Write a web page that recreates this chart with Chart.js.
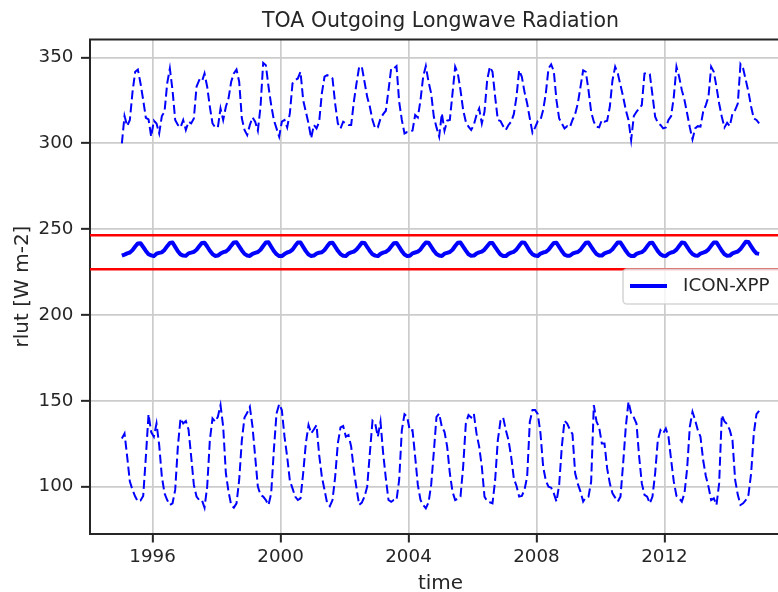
<!DOCTYPE html>
<html lang="en">
<head>
    <meta charset="UTF-8">
    <title>TOA Outgoing Longwave Radiation</title>
    <style>
        html, body { margin: 0; padding: 0; overflow: hidden; background: #ffffff; }
        canvas { display: block; }
    </style>
</head>
<body>
<script src="https://cdn.jsdelivr.net/npm/chart.js@4.4.0/dist/chart.umd.min.js"></script>

<canvas id="rlut" width="800" height="592"></canvas>
<script>
    // monthly values, Jan 1995 .. Dec 2014, one row per year
    const startYear = 1995

    const rlutMean = [
        234.6, 235.2, 235.9, 236.4, 237.8, 239.9, 241.7, 241.8, 239.6, 237.3, 235.4, 234.7,
        234.3, 235.7, 236.2, 236.5, 237.9, 240.1, 242.0, 242.2, 239.7, 237.1, 235.3, 234.6,
        234.5, 235.9, 236.3, 236.8, 238.0, 240.0, 241.9, 242.1, 239.9, 237.4, 235.5, 234.4,
        234.6, 235.8, 236.6, 237.0, 238.3, 240.4, 242.3, 242.4, 240.0, 237.6, 235.6, 234.7,
        234.4, 235.6, 236.2, 236.7, 238.0, 240.2, 242.2, 242.4, 239.8, 237.3, 235.4, 234.3,
        234.3, 235.5, 236.4, 236.9, 238.1, 240.3, 242.3, 242.2, 239.7, 237.2, 235.2, 234.4,
        234.6, 235.7, 236.3, 236.6, 237.9, 240.0, 242.0, 242.1, 239.8, 237.4, 235.5, 234.5,
        234.4, 235.8, 236.5, 236.9, 238.2, 240.1, 242.1, 242.0, 239.6, 237.3, 235.4, 234.6,
        234.3, 235.6, 236.3, 236.8, 237.9, 239.9, 241.8, 242.0, 239.7, 237.2, 235.3, 234.4,
        234.5, 235.9, 236.4, 236.9, 238.2, 240.4, 242.2, 242.1, 239.8, 237.4, 235.5, 234.6,
        234.4, 235.7, 236.2, 236.7, 238.0, 240.2, 242.1, 242.2, 239.9, 237.5, 235.4, 234.5,
        234.6, 235.8, 236.5, 236.9, 238.1, 240.1, 242.0, 241.9, 239.6, 237.3, 235.3, 234.4,
        234.3, 235.6, 236.3, 236.8, 238.2, 240.3, 242.3, 242.1, 239.8, 237.2, 235.4, 234.6,
        234.4, 235.8, 236.4, 236.8, 238.0, 240.0, 242.0, 242.1, 239.7, 237.3, 235.2, 234.5,
        234.5, 235.7, 236.3, 236.7, 237.9, 240.1, 242.1, 242.2, 239.9, 237.5, 235.5, 234.6,
        234.6, 235.9, 236.5, 237.0, 238.3, 240.4, 242.3, 242.2, 239.8, 237.4, 235.3, 234.4,
        234.3, 235.6, 236.2, 236.6, 237.9, 240.0, 241.9, 242.1, 239.6, 237.2, 235.4, 234.5,
        234.4, 235.7, 236.4, 236.8, 238.1, 240.2, 242.2, 242.0, 239.7, 237.3, 235.5, 234.6,
        234.5, 235.8, 236.3, 236.9, 238.2, 240.3, 242.2, 242.3, 239.9, 237.4, 235.4, 234.5,
        234.6, 235.9, 236.5, 237.0, 238.4, 240.6, 242.7, 242.5, 240.0, 237.6, 235.9, 235.6
    ]

    const rlutMax = [
        300.0, 315.9, 310.1, 313.6, 330.0, 341.7, 343.0, 334.9, 325.2, 314.9, 314.0, 303.9,
        313.2, 311.6, 305.8, 315.9, 318.4, 334.9, 343.6, 331.0, 313.6, 310.7, 309.3, 313.6,
        307.8, 312.6, 311.6, 314.5, 333.0, 336.8, 335.9, 340.7, 333.0, 321.3, 311.6, 309.3,
        309.3, 320.3, 313.6, 321.3, 326.2, 335.9, 340.7, 343.0, 335.9, 314.5, 307.8, 304.8,
        310.7, 315.1, 312.6, 307.4, 321.3, 346.9, 345.5, 333.0, 322.3, 313.6, 308.7, 303.9,
        312.6, 313.6, 309.3, 317.4, 334.9, 336.8, 337.8, 341.7, 325.2, 318.4, 311.6, 302.9,
        310.7, 308.7, 312.6, 329.1, 338.8, 339.7, 339.0, 337.8, 323.0, 311.6, 308.7, 312.6,
        311.6, 310.7, 310.7, 324.2, 334.9, 344.6, 344.6, 335.9, 327.1, 321.3, 313.6, 308.7,
        309.3, 314.5, 317.0, 319.0, 331.0, 343.6, 343.6, 345.0, 324.2, 313.6, 305.8, 306.6,
        306.8, 307.4, 316.5, 315.1, 325.2, 338.8, 345.0, 335.9, 329.1, 315.5, 309.3, 303.9,
        317.4, 307.4, 313.2, 313.6, 329.1, 344.6, 340.7, 331.0, 319.4, 312.6, 309.7, 307.8,
        310.7, 316.5, 320.3, 311.6, 318.4, 336.8, 344.6, 341.7, 327.1, 313.6, 313.0, 310.0,
        307.8, 310.7, 312.6, 317.0, 327.1, 342.6, 338.8, 330.0, 323.2, 314.5, 306.2, 309.3,
        313.0, 313.6, 319.4, 329.1, 343.6, 346.0, 342.0, 325.0, 314.5, 311.6, 308.7, 310.0,
        309.3, 313.6, 317.0, 323.2, 332.9, 342.6, 341.7, 331.0, 318.4, 312.6, 309.7, 309.3,
        313.6, 312.6, 313.2, 321.3, 336.8, 344.6, 340.7, 333.9, 327.1, 319.4, 313.6, 301.9,
        315.9, 318.4, 320.3, 322.3, 340.7, 341.1, 340.3, 328.1, 315.5, 312.0, 310.7, 308.7,
        309.3, 313.6, 315.9, 327.1, 344.6, 338.8, 331.0, 325.2, 317.4, 309.3, 302.3, 308.7,
        310.0, 309.7, 318.4, 322.3, 327.1, 344.6, 341.7, 332.9, 323.2, 315.5, 309.3, 312.0,
        310.0, 317.4, 319.4, 323.2, 346.1, 343.6, 336.8, 330.0, 321.3, 314.5, 313.6, 311.6
    ]

    const rlutMin = [
        128.1, 131.0, 117.4, 102.9,  98.1,  94.2,  91.3,  91.9,  94.6, 117.4, 142.2, 131.8,
        129.1, 136.8, 124.2, 105.8,  96.1,  92.2,  89.3,  90.3,  98.1, 123.3, 139.7, 136.8,
        138.2, 133.3, 117.4, 101.0,  94.2,  92.2,  92.2,  87.8, 100.0, 127.1, 139.7, 137.8,
        140.7, 147.5, 134.9, 107.8,  97.1,  89.3,  87.8,  90.3, 103.9, 127.1, 140.3, 143.0,
        146.5, 134.9, 117.4, 100.0,  95.2,  94.2,  92.2,  89.3,  96.1, 121.3, 142.6, 148.1,
        144.6, 129.1, 117.4, 103.5,  99.0,  94.2,  92.2,  93.2, 107.8, 125.2, 135.9, 131.0,
        133.3, 135.9, 118.4, 105.8,  98.1,  90.3,  88.6,  92.2, 105.8, 125.2, 134.5, 135.3,
        129.1, 130.0, 123.3, 109.7,  99.0,  89.3,  90.7,  94.2, 100.0, 119.4, 138.4, 136.8,
        129.1, 137.8, 119.4, 104.8,  92.2,  91.2,  92.2,  92.2, 103.9, 132.9, 142.2, 140.7,
        132.6, 132.9, 117.4, 101.0,  92.2,  89.3,  87.4,  90.7, 101.0, 120.3, 140.7, 142.6,
        134.9, 132.0, 123.3, 107.8,  97.1,  92.2,  93.0,  94.2, 111.6, 136.8, 141.7, 140.3,
        142.6, 131.0, 123.3, 111.6,  94.2,  91.6,  90.9,  90.3, 103.9, 127.1, 138.4, 140.3,
        132.9, 127.1, 117.4, 104.8, 100.4,  94.2,  94.6,  98.1, 105.8, 137.8, 144.6, 144.6,
        142.2, 131.0, 111.6, 103.5, 100.0,  99.4,  96.1,  91.3, 101.0, 123.3, 138.4, 136.8,
        133.3, 130.6, 107.8, 101.6,  97.1,  91.3,  93.8,  94.2, 102.9, 147.5, 138.0, 134.5,
        125.2, 125.2, 110.6, 101.9,  96.1,  93.6,  91.3,  94.2, 113.6, 134.9, 149.5, 142.6,
        140.3, 136.8, 117.4, 101.9,  95.2,  94.2,  90.3,  94.2, 107.8, 127.1, 132.9, 131.0,
        133.9, 129.1, 115.5, 102.9,  94.6,  93.2,  91.3,  96.1, 110.6, 134.9, 143.6, 138.8,
        132.9, 129.1, 115.5, 106.2, 100.0,  92.2,  93.2,  89.3, 101.9, 141.7, 138.0, 136.4,
        132.9, 127.1, 103.9,  95.2,  89.3,  90.3,  92.2,  95.2, 107.8, 131.0, 142.2, 144.2
    ]

    const refLines = [246.5, 226.6]
    const yearTicks = [1996, 2000, 2004, 2008, 2012]
    const valueTicks = [100, 150, 200, 250, 300, 350]

    const inkColor = '#262626'
    Chart.defaults.font.family = "'DejaVu Sans', sans-serif"
    Chart.defaults.color = inkColor

    // mid-month positions in decimal years
    const time = rlutMean.map((_, i) => startYear + (i + 0.5) / 12)
    const xPad = (time[time.length - 1] - time[0]) * 0.05
    const xMin = time[0] - xPad
    const xMax = time[time.length - 1] + xPad

    const toPoints = (vals) => vals.map((v, i) => ({x: time[i], y: v}))

    // top spine and matplotlib-like legend box inside the axes
    const axesExtras = {
        id: 'axesExtras',
        afterDraw(chart) {
            const {ctx, chartArea} = chart
            ctx.save()
            ctx.strokeStyle = inkColor
            ctx.lineWidth = 2
            ctx.beginPath()
            ctx.moveTo(chartArea.left - 1, chartArea.top)
            ctx.lineTo(chartArea.right + 1, chartArea.top)
            ctx.moveTo(chartArea.right, chartArea.top)
            ctx.lineTo(chartArea.right, chartArea.bottom)
            ctx.stroke()

            const boxW = 159, boxH = 35
            const boxR = chartArea.right - 9
            const boxX = boxR - boxW
            const midY = (chartArea.top + chartArea.bottom) / 2
            const boxY = midY - boxH / 2
            ctx.globalAlpha = 0.8
            ctx.fillStyle = '#ffffff'
            ctx.strokeStyle = '#cccccc'
            ctx.lineWidth = 1.6
            ctx.beginPath()
            ctx.roundRect(boxX, boxY, boxW, boxH, 4)
            ctx.fill()
            ctx.stroke()
            ctx.globalAlpha = 1

            ctx.strokeStyle = '#0000ff'
            ctx.lineWidth = 4
            ctx.lineCap = 'butt'
            ctx.beginPath()
            ctx.moveTo(boxX + 7, midY - 0.5)
            ctx.lineTo(boxX + 44, midY - 0.5)
            ctx.stroke()

            ctx.fillStyle = inkColor
            ctx.font = "18.3px 'DejaVu Sans', sans-serif"
            ctx.textBaseline = 'middle'
            ctx.textAlign = 'left'
            ctx.fillText(chart.data.datasets[0].label, boxX + 60, midY)
            ctx.restore()
        }
    }

    const ctx = document.getElementById('rlut').getContext('2d')
    const rlut_chart = new Chart(ctx, {
        type: 'line',
        data: {
            datasets: [{
                label: 'ICON-XPP',
                data: toPoints(rlutMean),
                borderColor: '#0000ff',
                borderWidth: 4,
                borderJoinStyle: 'round',
                pointRadius: 0
            }, {
                label: 'max',
                data: toPoints(rlutMax),
                borderColor: '#0000ff',
                borderWidth: 2,
                borderDash: [9, 4],
                pointRadius: 0
            }, {
                label: 'min',
                data: toPoints(rlutMin),
                borderColor: '#0000ff',
                borderWidth: 2,
                borderDash: [9, 4],
                pointRadius: 0
            }, {
                label: 'upper',
                data: [{x: xMin, y: refLines[0]}, {x: xMax, y: refLines[0]}],
                borderColor: '#ff0000',
                borderWidth: 2.5,
                pointRadius: 0
            }, {
                label: 'lower',
                data: [{x: xMin, y: refLines[1]}, {x: xMax, y: refLines[1]}],
                borderColor: '#ff0000',
                borderWidth: 2.5,
                pointRadius: 0
            }]
        },
        options: {
            responsive: false,
            animation: false,
            devicePixelRatio: 1,
            layout: {
                padding: {left: 0, right: 9, top: 0, bottom: 0}
            },
            plugins: {
                legend: {display: false},
                tooltip: {enabled: false},
                title: {
                    display: true,
                    fullSize: false,
                    text: 'TOA Outgoing Longwave Radiation',
                    color: inkColor,
                    font: {size: 20.5, weight: 'normal'},
                    padding: {top: 9.5, bottom: 5.4}
                }
            },
            scales: {
                x: {
                    type: 'linear',
                    min: xMin,
                    max: xMax,
                    afterBuildTicks: (scale) => {
                        scale.ticks = yearTicks.map(v => ({value: v}))
                    },
                    afterFit: (scale) => {
                        scale.height = 58.5
                    },
                    ticks: {
                        callback: (v) => String(v),
                        font: {size: 18.3},
                        color: inkColor,
                        padding: 4,
                        maxRotation: 0
                    },
                    grid: {
                        color: '#cccccc',
                        lineWidth: 1.7,
                        tickLength: 9,
                        tickColor: inkColor,
                        tickWidth: 2
                    },
                    border: {color: inkColor, width: 2},
                    title: {
                        display: true,
                        text: 'time',
                        color: inkColor,
                        font: {size: 20, lineHeight: 1},
                        padding: {top: 0, bottom: -1.5}
                    }
                },
                y: {
                    min: 72.7,
                    max: 360.5,
                    afterBuildTicks: (scale) => {
                        scale.ticks = valueTicks.map(v => ({value: v}))
                    },
                    afterFit: (scale) => {
                        scale.width = 90
                    },
                    ticks: {
                        callback: (v) => String(v),
                        font: {size: 18.3},
                        color: inkColor,
                        padding: 7.6
                    },
                    grid: {
                        color: '#cccccc',
                        lineWidth: 1.7,
                        tickLength: 9,
                        tickColor: inkColor,
                        tickWidth: 2
                    },
                    border: {color: inkColor, width: 2},
                    title: {
                        display: true,
                        text: 'rlut [W m-2]',
                        color: inkColor,
                        font: {size: 20},
                        padding: {top: 11, bottom: 0}
                    }
                }
            }
        },
        plugins: [axesExtras]
    });
</script>
</body>
</html>
